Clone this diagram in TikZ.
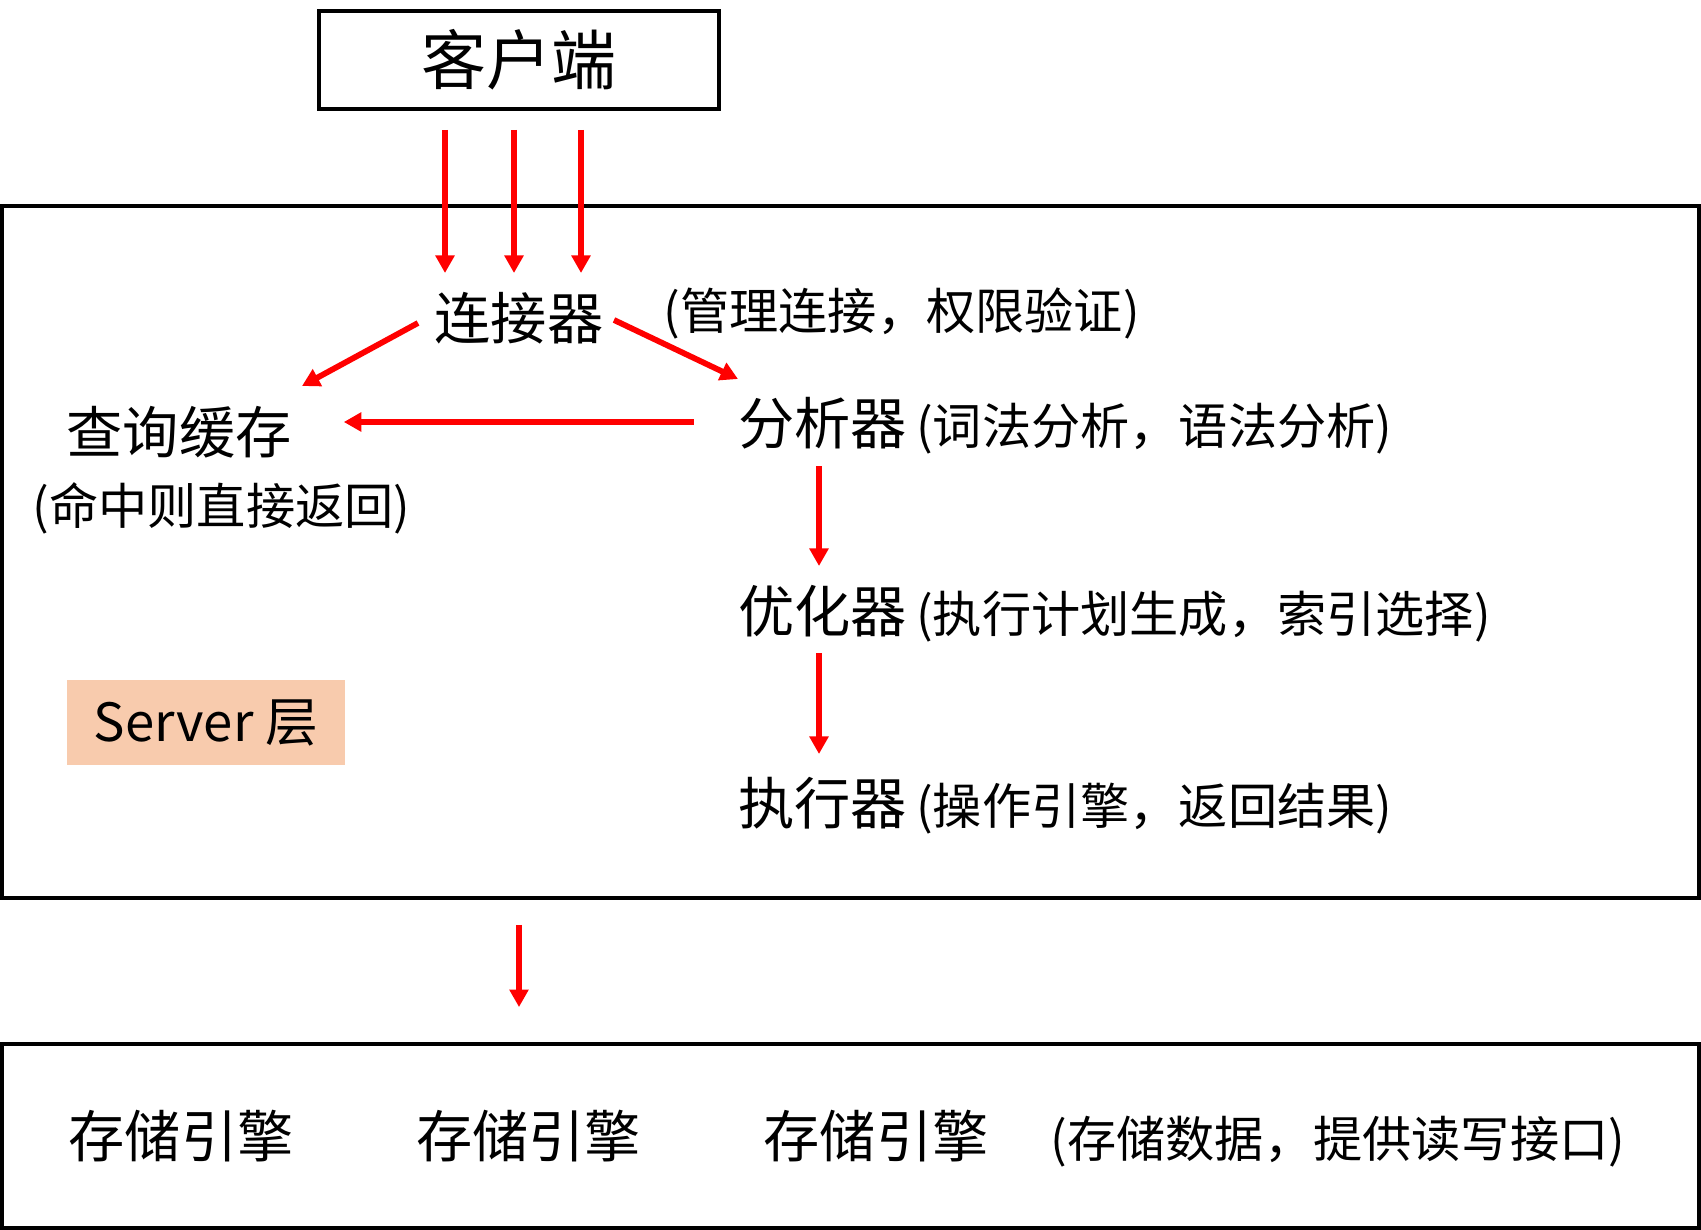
\documentclass[tikz,border=0pt]{standalone}
\usepackage{fontspec}
\setmainfont{Noto Sans CJK SC}
\usepackage{tikz}
\usetikzlibrary{arrows.meta,calc,positioning}
\definecolor{arrowred}{HTML}{FF0000}
\definecolor{peach}{HTML}{F8CBAD}
\tikzset{
  boxed/.style={draw,line width=2.2pt,inner sep=0},
  mainlbl/.style={inner sep=0,font=\fontsize{32pt}{38pt}\selectfont},
  notelbl/.style={inner sep=0,font=\fontsize{28pt}{34pt}\selectfont},
  flow/.style={arrowred,line width=3.3pt,->}
}

\begin{document}
\begin{tikzpicture}[x=0.02cm,y=-0.02cm,>={Triangle[width=10.5pt,length=10pt]}]
\useasboundingbox (0,0) rectangle (1701,1230);
\node[boxed,minimum width=8cm,minimum height=1.96cm,font=\fontsize{37pt}{44pt}\selectfont] (client) at (519,60) {客户端};
\node[boxed,minimum width=33.94cm,minimum height=13.84cm] (serverbox) at (850.5,552) {};
\node[boxed,minimum width=33.94cm,minimum height=3.68cm] (storage) at (850.5,1136) {};
\node[fill=peach,minimum width=5.56cm,minimum height=1.7cm,font=\fontsize{30pt}{36pt}\selectfont] (tag) at (206,722.5) {Server 层};

\node[mainlbl] (conn) at (519,318) {连接器};
\node[notelbl,base right=34pt of conn,yshift=5.5pt] (connnote) {(管理连接，权限验证)};
\node[mainlbl] (cache) at (179,432) {查询缓存};
\node[notelbl] (cachenote) at (221.5,508) {(命中则直接返回)};
\node[mainlbl] (parser) at (822.5,423) {分析器};
\node[notelbl,base right=5pt of parser] (parsernote) {(词法分析，语法分析)};
\node[mainlbl] (optim) at (822.5,611) {优化器};
\node[notelbl,base right=5pt of optim] (optimnote) {(执行计划生成，索引选择)};
\node[mainlbl] (exec) at (822.5,803) {执行器};
\node[notelbl,base right=5pt of exec] (execnote) {(操作引擎，返回结果)};

\node[mainlbl] (engine1) at (181,1136) {存储引擎};
\node[mainlbl] (engine2) at (528.5,1136) {存储引擎};
\node[mainlbl] (engine3) at (876,1136) {存储引擎};
\node[notelbl,base right=35pt of engine3] (enginenote) {(存储数据，提供读写接口)};

\foreach \dx in {-74,-5,62}
  \draw[flow] ($(client.south)+(\dx,19)$) -- ($(conn)+(\dx,-45)$);
\draw[flow] ($(conn)+(-101,5)$) -- ($(cache)+(123,-46)$);
\draw[flow] ($(conn)+(95,2)$) -- ($(parser)+(-84.5,-44)$);
\draw[flow] ($(parser.west)+(-44,-1)$) -- ($(cache.east)+(52,-10)$);
\draw[flow] ($(parser)+(-3.5,43)$) -- ($(optim)+(-3.5,-45)$);
\draw[flow] ($(optim)+(-3.5,42)$) -- ($(exec)+(-3.5,-49)$);
\draw[flow,line width=3pt] ($(serverbox.south -| client)+(0,25)$) -- ($(storage.north -| client)+(0,-35)$);
\end{tikzpicture}
\end{document}
